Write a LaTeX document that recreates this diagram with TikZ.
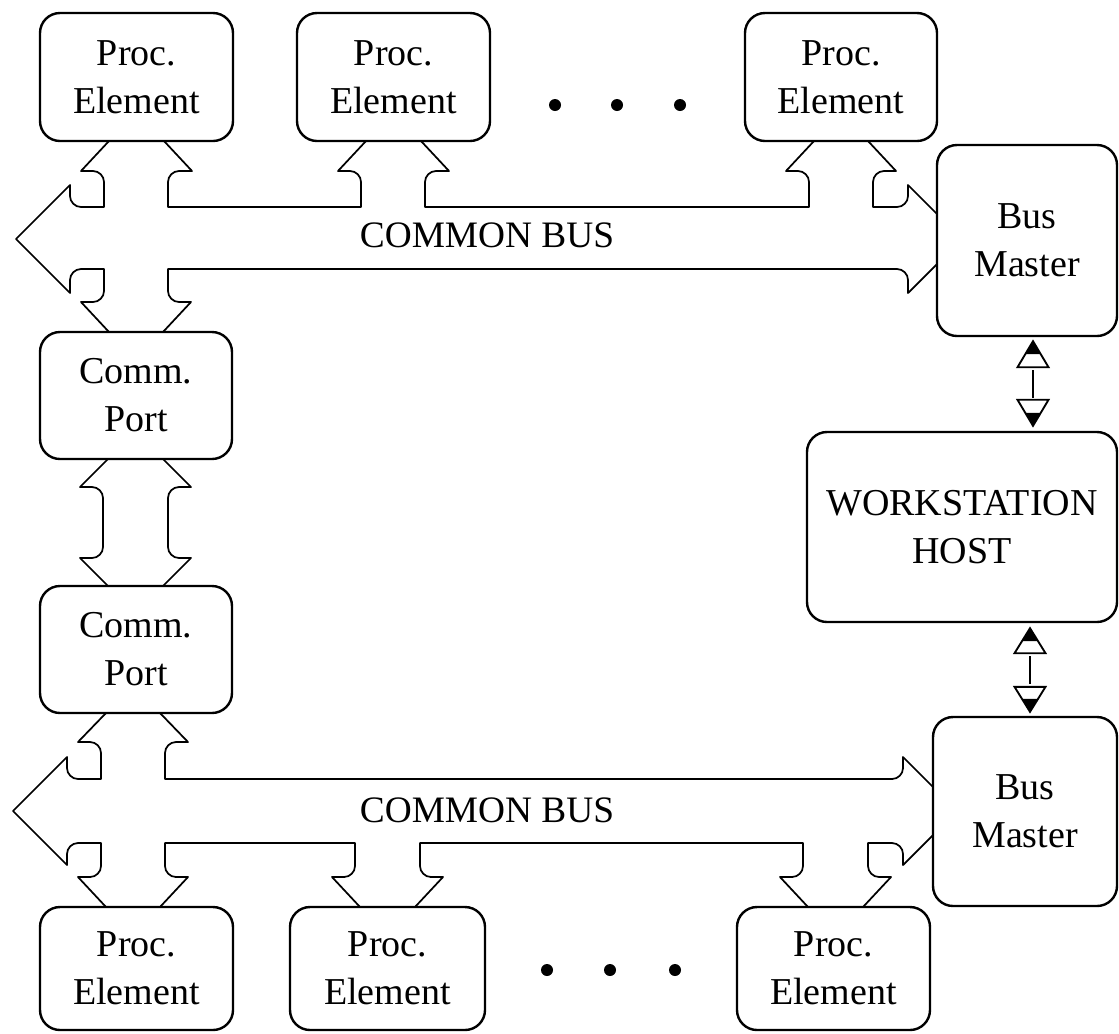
\documentclass[tikz,border=0pt]{standalone}
\usepackage{fontspec}
\setmainfont{Liberation Serif}
\usetikzlibrary{calc}
\begin{document}
\begin{tikzpicture}[x=0.75pt,y=-0.75pt,
  unit/.style={draw, line width=1.8pt, rounded corners=15pt, align=center,
    inner sep=0pt, font=\fontsize{28.5}{36}\selectfont},
  bus/.style={line width=1.3pt, line join=round},
  link/.style={line width=1.5pt},
  tipshape/.style={draw, line width=1.4pt, fill=white, line join=miter},
  buslabel/.style={font=\fontsize{28}{34}\selectfont, anchor=base, inner sep=0pt}]

\fill[white] (0,0) rectangle (1119,1033);
\useasboundingbox (0,0) rectangle (1119,1033);

% processing elements, ports, masters and host
\node[unit, minimum width=144.75pt, minimum height=96pt] (pe1) at (136.5,77) {Proc.\\Element};
\node[unit, minimum width=144.75pt, minimum height=96pt] (pe2) at (393.5,77) {Proc.\\Element};
\node[unit, minimum width=144pt, minimum height=96pt] (pe3) at (841,77) {Proc.\\Element};
\node[unit, minimum width=135pt, minimum height=143.25pt] (bm1) at (1027,240.5) {Bus\\Master};
\node[unit, minimum width=232.5pt, minimum height=142.5pt] (ws) at (962,527) {WORKSTATION\\HOST};
\node[unit, minimum width=138pt, minimum height=141.75pt] (bm2) at (1025,811.5) {Bus\\Master};
\node[unit, minimum width=144pt, minimum height=95.25pt] (cp1) at (136,395.5) {Comm.\\Port};
\node[unit, minimum width=144pt, minimum height=95.25pt] (cp2) at (136,649.5) {Comm.\\Port};
\node[unit, minimum width=144.75pt, minimum height=92.25pt] (pe4) at (136.5,968.5) {Proc.\\Element};
\node[unit, minimum width=146.25pt, minimum height=92.25pt] (pe5) at (387.5,968.5) {Proc.\\Element};
\node[unit, minimum width=144.75pt, minimum height=92.25pt] (pe6) at (833.5,968.5) {Proc.\\Element};

% upper common bus
\draw[bus] (109,141) -- (81,171) -- (93,171) .. controls (99,171) and (104,176) .. (104,182)
  -- (104,207) -- (81,207) .. controls (75,207) and (70,202) .. (70,196) -- (70,185)
  -- (16,239) -- (70,293) -- (70,280) .. controls (70,274) and (75,269) .. (81,269)
  -- (104,269) -- (104,291) .. controls (104,297) and (99,302) .. (93,302) -- (81,302) -- (109,332);
\draw[bus] (164,141) -- (192,171) -- (179,171) .. controls (173,171) and (168,176) .. (168,182)
  -- (168,207) -- (361,207) -- (361,182) .. controls (361,176) and (356,171) .. (350,171)
  -- (338,171) -- (366,141);
\draw[bus] (421,141) -- (449,171) -- (436,171) .. controls (430,171) and (425,176) .. (425,182)
  -- (425,207) -- (809,207) -- (809,182) .. controls (809,176) and (804,171) .. (798,171)
  -- (786,171) -- (814,141);
\draw[bus] (868,141) -- (896,171) -- (884,171) .. controls (878,171) and (873,176) .. (873,182)
  -- (873,207) -- (897,207) .. controls (903,207) and (908,202) .. (908,196) -- (908,185) -- (937,214);
\draw[bus] (163,332) -- (191,302) -- (179,302) .. controls (173,302) and (168,297) .. (168,291)
  -- (168,269) -- (897,269) .. controls (903,269) and (908,274) .. (908,280) -- (908,293) -- (937,264);
\node[buslabel] (lab1) at (487,247) {COMMON BUS};

% link between the two ports
\draw[bus] (108,459) -- (80,487) -- (92,487) .. controls (98,487) and (103,492) .. (103,498)
  -- (103,547) .. controls (103,553) and (98,558) .. (92,558) -- (80,558) -- (108,586);
\draw[bus] (163,459) -- (191,487) -- (179,487) .. controls (173,487) and (168,492) .. (168,498)
  -- (168,547) .. controls (168,553) and (173,558) .. (179,558) -- (191,558) -- (163,586);

% lower common bus
\draw[bus] (106,713) -- (78,742) -- (90,742) .. controls (96,742) and (101,747) .. (101,753)
  -- (101,779) -- (78,779) .. controls (72,779) and (67,774) .. (67,768) -- (67,757)
  -- (13,811) -- (67,865) -- (67,854) .. controls (67,848) and (72,843) .. (78,843)
  -- (101,843) -- (101,866) .. controls (101,872) and (96,877) .. (90,877) -- (78,877) -- (106,907);
\draw[bus] (160,713) -- (188,742) -- (176,742) .. controls (170,742) and (165,747) .. (165,753)
  -- (165,779) -- (892,779) .. controls (898,779) and (903,774) .. (903,768) -- (903,757) -- (933,787);
\draw[bus] (160,907) -- (188,877) -- (176,877) .. controls (170,877) and (165,872) .. (165,866)
  -- (165,843) -- (355,843) -- (355,866) .. controls (355,872) and (350,877) .. (344,877)
  -- (332,877) -- (360,907);
\draw[bus] (415,907) -- (443,877) -- (431,877) .. controls (425,877) and (420,872) .. (420,866)
  -- (420,843) -- (803,843) -- (803,866) .. controls (803,872) and (798,877) .. (792,877)
  -- (780,877) -- (808,907);
\draw[bus] (863,907) -- (891,877) -- (879,877) .. controls (873,877) and (868,872) .. (868,866)
  -- (868,843) -- (892,843) .. controls (898,843) and (903,848) .. (903,854) -- (903,865) -- (933,835);
\node[buslabel] (lab2) at (487,822) {COMMON BUS};

% ellipses between processing elements
\fill (555,105) circle[radius=4.5pt];
\fill (617,105) circle[radius=4.5pt];
\fill (680,105) circle[radius=4.5pt];
\fill (547,970) circle[radius=4.5pt];
\fill (610,970) circle[radius=4.5pt];
\fill (675,970) circle[radius=4.5pt];

% host links
\coordinate (ax1) at (1033,0);
\coordinate (ax2) at (1030,0);
\draw[link, shorten <=24.75pt, shorten >=24.75pt] (bm1.south -| ax1) -- (ws.north -| ax1);
\draw[tipshape] ($(bm1.south -| ax1)+(0,4)$) -- ++(15.5,26) -- ++(-31,0) -- cycle;
\fill ($(bm1.south -| ax1)+(0,4)$) -- ++(7.5,13) -- ++(-15,0) -- cycle;
\draw[tipshape] ($(ws.north -| ax1)+(0,-5)$) -- ++(15.5,-26) -- ++(-31,0) -- cycle;
\fill ($(ws.north -| ax1)+(0,-5)$) -- ++(7.5,-13) -- ++(-15,0) -- cycle;

\draw[link, shorten <=24.75pt, shorten >=24pt] (ws.south -| ax2) -- (bm2.north -| ax2);
\draw[tipshape] ($(ws.south -| ax2)+(0,5)$) -- ++(15.5,25) -- ++(-31,0) -- cycle;
\fill ($(ws.south -| ax2)+(0,5)$) -- ++(7.5,13) -- ++(-15,0) -- cycle;
\draw[tipshape] ($(bm2.north -| ax2)+(0,-4)$) -- ++(15.5,-25) -- ++(-31,0) -- cycle;
\fill ($(bm2.north -| ax2)+(0,-4)$) -- ++(7.5,-13) -- ++(-15,0) -- cycle;

\end{tikzpicture}
\end{document}
